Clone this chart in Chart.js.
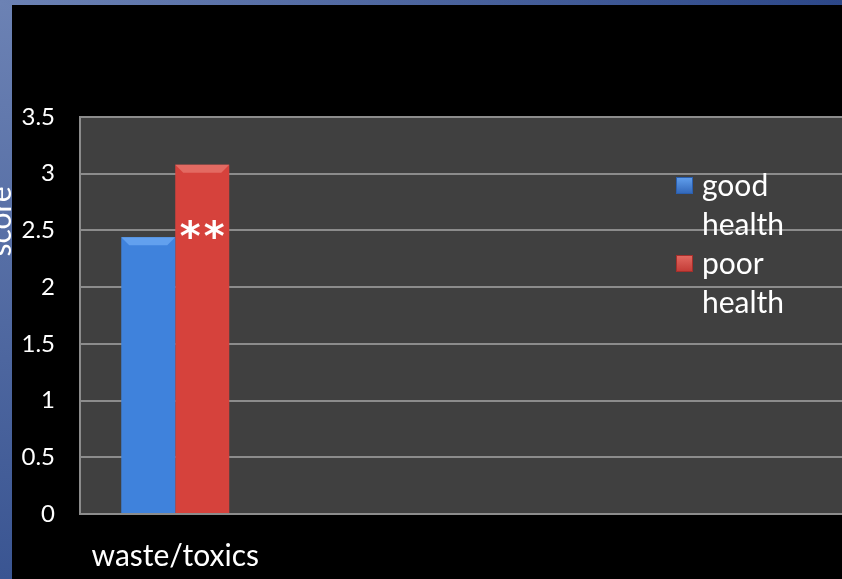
<!DOCTYPE html>
<html>
<head>
<meta charset="utf-8">
<script src="https://cdn.jsdelivr.net/npm/chart.js@4.4.0/dist/chart.umd.min.js"></script>
<style>
  html, body { margin: 0; padding: 0; background: #000; }
  #wrap { width: 842px; height: 579px; position: relative; }
</style>
</head>
<body>
<div id="wrap"><canvas id="myChart" width="842" height="579"></canvas></div>
<script>
// categories (only the first one carries data, the rest keep the plot wide)
const categories = ['waste/toxics', '', '', ''];
const seriesNames = ['good health', 'poor health'];
const goodHealth = [2.44, null, null, null];
const poorHealth = [3.08, null, null, null];
const yTicks = [0, 0.5, 1, 1.5, 2, 2.5, 3, 3.5];
const axisTitle = 'score';
const marker = '*';

const FONT = 'Lato, "Open Sans", sans-serif';
const palette = [
  { body: '#3f82dc', edge: '#2b5fae', light: '#62a0ee', key: '#3166b8' },
  { body: '#d6423c', edge: '#a42f2b', light: '#e36a62', key: '#c23a35' }
];

function barFill(idx) {
  return function(ctx) {
    const el = ctx.element;
    const c = palette[idx];
    if (!el || el.x == null) return c.body;
    const w = el.width || 50;
    const g = ctx.chart.ctx.createLinearGradient(el.x - w / 2, 0, el.x + w / 2, 0);
    g.addColorStop(0, c.edge);
    g.addColorStop(0.1, c.body);
    g.addColorStop(0.9, c.body);
    g.addColorStop(1, c.edge);
    return g;
  };
}

// slide background, plot backdrop, bevels, legend, axis title, marker
const decor = {
  id: 'decor',
  beforeDraw(chart) {
    const ctx = chart.ctx;
    const { width, height, chartArea: a } = chart;
    ctx.save();
    ctx.fillStyle = '#000';
    ctx.fillRect(0, 0, width, height);
    let g = ctx.createLinearGradient(0, 0, 0, height);
    g.addColorStop(0, '#6c82b4');
    g.addColorStop(1, '#3a5592');
    ctx.fillStyle = g;
    ctx.fillRect(0, 0, 12, height);
    g = ctx.createLinearGradient(0, 0, width, 0);
    g.addColorStop(0, '#6c82b4');
    g.addColorStop(1, '#2c4788');
    ctx.fillStyle = g;
    ctx.fillRect(0, 0, width, 5);
    ctx.fillStyle = '#404040';
    ctx.fillRect(a.left, a.top, width - a.left, a.bottom - a.top);

    // axis title, clipped by the slide edge
    ctx.translate(11, (a.top + a.bottom) / 2 - 94);
    ctx.rotate(-Math.PI / 2);
    ctx.fillStyle = '#ffffff';
    ctx.font = '30px ' + FONT;
    ctx.textAlign = 'center';
    ctx.textBaseline = 'alphabetic';
    ctx.fillText(axisTitle, 0, 0);
    ctx.restore();
  },
  afterDatasetsDraw(chart) {
    const ctx = chart.ctx;
    ctx.save();
    chart.data.datasets.forEach((ds, i) => {
      const c = palette[i];
      chart.getDatasetMeta(i).data.forEach((bar, j) => {
        if (ds.data[j] == null) return;
        const l = bar.x - bar.width / 2, r = bar.x + bar.width / 2, t = bar.y;
        const d = 8;
        ctx.fillStyle = c.light;
        ctx.beginPath();
        ctx.moveTo(l, t);
        ctx.lineTo(r, t);
        ctx.lineTo(r - d, t + d);
        ctx.lineTo(l + d, t + d);
        ctx.closePath();
        ctx.fill();
      });
    });

    // significance marker over the second series
    const red = chart.getDatasetMeta(1).data[0];
    const my = chart.scales.y.getPixelForValue(2.5) - 4;
    ctx.fillStyle = '#ffffff';
    ctx.font = 'bold 40px "DejaVu Sans", sans-serif';
    ctx.textAlign = 'center';
    ctx.textBaseline = 'alphabetic';
    [-12, 12].forEach(dx => ctx.fillText(marker, red.x + dx, my + 24));
    ctx.restore();
  },
  afterDraw(chart) {
    const ctx = chart.ctx;
    ctx.save();
    ctx.font = '30px ' + FONT;
    ctx.textBaseline = 'middle';
    ctx.textAlign = 'left';
    let y = 186;
    seriesNames.forEach((name, i) => {
      const c = palette[i];
      const kx = 676, ky = y - 9;
      const g = ctx.createLinearGradient(kx, ky, kx, ky + 17);
      g.addColorStop(0, c.light);
      g.addColorStop(1, c.key);
      ctx.fillStyle = g;
      ctx.fillRect(kx, ky, 17, 17);
      ctx.strokeStyle = c.edge;
      ctx.lineWidth = 1;
      ctx.strokeRect(kx + 0.5, ky + 0.5, 16, 16);
      ctx.fillStyle = '#ffffff';
      name.split(' ').forEach(word => {
        ctx.fillText(word, 702, y);
        y += 39;
      });
    });
    ctx.restore();
  }
};

new Chart(document.getElementById('myChart').getContext('2d'), {
  type: 'bar',
  data: {
    labels: categories,
    datasets: [
      { label: seriesNames[0], data: goodHealth, backgroundColor: barFill(0), categoryPercentage: 0.567, barPercentage: 1 },
      { label: seriesNames[1], data: poorHealth, backgroundColor: barFill(1), categoryPercentage: 0.567, barPercentage: 1 }
    ]
  },
  options: {
    responsive: false,
    animation: false,
    layout: { padding: { top: 117, right: 0, left: 0, bottom: 0 } },
    plugins: { legend: { display: false }, tooltip: { enabled: false } },
    scales: {
      x: {
        grid: { display: false, drawTicks: false },
        border: { display: true, color: '#8c8c8c', width: 2 },
        ticks: { color: '#ffffff', font: { family: FONT, size: 30 }, padding: 24, maxRotation: 0, autoSkip: false },
        afterFit(s) { s.height = 65; }
      },
      y: {
        min: 0,
        max: 3.5,
        afterBuildTicks(s) { s.ticks = yTicks.map(v => ({ value: v })); },
        grid: { color: '#8c8c8c', lineWidth: 2, drawTicks: false },
        border: { display: true, color: '#8c8c8c', width: 2 },
        ticks: { color: '#ffffff', font: { family: FONT, size: 24 }, padding: 25, callback: v => String(v) },
        afterFit(s) { s.width = 80; }
      }
    }
  },
  plugins: [decor]
});
</script>
</body>
</html>
